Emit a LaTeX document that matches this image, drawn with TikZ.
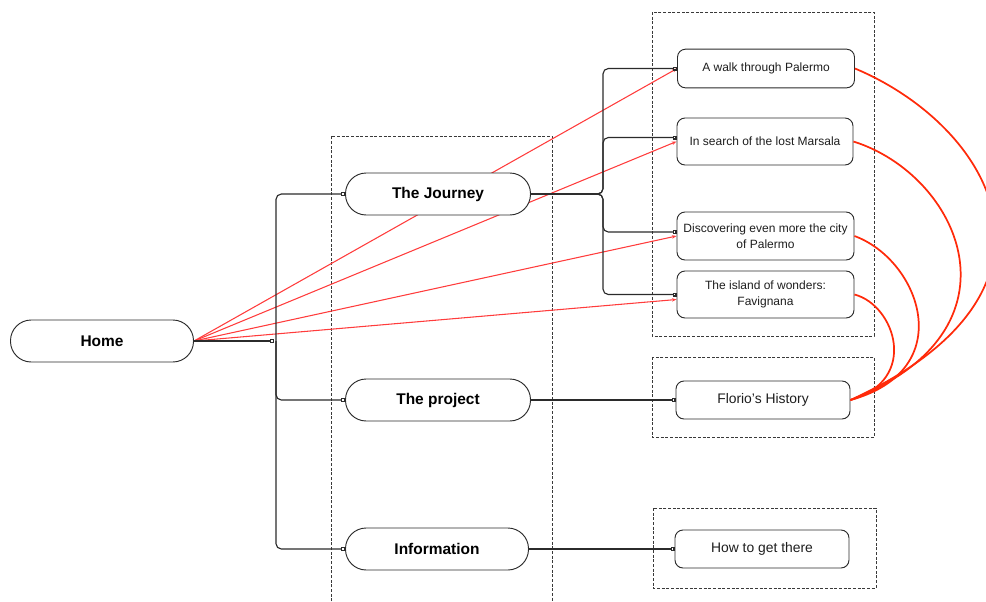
\documentclass[tikz,border=0pt]{standalone}
\usepackage{fontspec}
\setmainfont{Liberation Sans}
\usepackage{xcolor}
\usetikzlibrary{arrows.meta,positioning,backgrounds}
\definecolor{mapLine}{HTML}{2B2B2B}
\definecolor{mapText}{HTML}{1E1E1E}
\definecolor{mapDash}{HTML}{3A3A3A}
\definecolor{mapLink}{HTML}{FF3C3C}
\definecolor{mapFlow}{HTML}{FF2A0A}
\tikzset{
  sectionbox/.style={
    rectangle,
    rounded corners=15.5pt,
    draw=mapLine,
    fill=white,
    line width=0.7pt,
    align=center,
    font=\fontsize{11.6}{14}\selectfont\bfseries,
    minimum height=31.5pt,
    minimum width=138.75pt
  },
  pagebox/.style={
    rectangle,
    rounded corners=6pt,
    draw=mapLine,
    fill=white,
    line width=0.7pt,
    align=center,
    inner sep=1pt,
    text=mapText,
    font=\fontsize{9}{12}\selectfont,
    minimum height=29pt,
    minimum width=132.75pt
  },
  bigpage/.style={pagebox, font=\fontsize{10.4}{12}\selectfont, minimum height=28.5pt, minimum width=130.5pt},
  groupbox/.style={draw=mapDash, line width=0.6pt, dash pattern=on 2.2pt off 1.3pt},
  treeline/.style={draw=mapLine, line width=0.85pt, rounded corners=4pt},
  sqline/.style={treeline, -{Square[open,length=3pt,width=3pt]}},
  redlink/.style={draw=mapLink, line width=0.8pt, -{Stealth[length=3.5pt,width=2.6pt]}},
  redflow/.style={draw=mapFlow, line width=1.3pt}
}

\begin{document}
\begin{tikzpicture}[x=0.75pt, y=-0.75pt]
  \useasboundingbox (0,0) rectangle (986,601);
  % sections
  \node[sectionbox, minimum width=137.25pt] (home) at (102,341) {Home};
  \node[sectionbox] (journey) at (438,194) {The Journey};
  \node[sectionbox] (project) at (438,400) {The project};
  \node[sectionbox, minimum width=137.25pt] (info) at (437,549) {Information};
  % pages
  \node[pagebox] (walk) at (766,68.5) {A walk through Palermo};
  \node[pagebox, minimum height=35.25pt, minimum width=132pt] (marsala) at (765,141.5) {In search of the lost Marsala};
  \node[pagebox, minimum height=36pt] (disc) at (765.5,236) {Discovering even more the city\\of Palermo};
  \node[pagebox, minimum height=35.25pt] (island) at (765.5,294.5) {The island of wonders:\\Favignana};
  \node[bigpage] (florio) at (763,400) {Florio’s History};
  \node[bigpage] (howto) at (762,549) {How to get there};
  \coordinate (hj) at (274,341);
  \coordinate (hbus) at (276,341);
  \coordinate (jbus) at (603,194);
  % tree
  \draw[sqline] (home.east) -- (hj);
  \draw[sqline] (hbus) |- (journey.west);
  \draw[sqline] (hbus) |- (project.west);
  \draw[sqline] (hbus) |- (info.west);
  \draw[sqline] (journey.east) -- (jbus) |- (walk.west);
  \draw[sqline] (journey.east) -- (jbus) |- ([yshift=3pt]marsala.west);
  \draw[sqline] (journey.east) -- (jbus) |- ([yshift=3pt]disc.west);
  \draw[sqline] (journey.east) -- (jbus) |- (island.west);
  \draw[sqline] (project.east) -- (florio.west);
  \draw[sqline] (info.east) -- (howto.west);
  \begin{scope}[on background layer]
    % groups
    \draw[groupbox] (331,620) |- (552,136) -- (552,620);
    \draw[groupbox] (652,12) rectangle (874,336);
    \draw[groupbox] (652,357) rectangle (874,437);
    \draw[groupbox] (653,508) rectangle (876,588);
    % links from home
    \draw[redlink] (home.east) -- (walk.west);
    \draw[redlink] (home.east) -- (marsala.west);
    \draw[redlink] (home.east) -- (disc.west);
    \draw[redlink] (home.east) -- ([yshift=-3.75pt]island.west);
  \end{scope}
  % links to history
  \draw[redflow] (walk.east) .. controls (990,125) and (1090,290) .. (florio.east);
  \draw[redflow] (marsala.east) .. controls (960,175) and (1030,330) .. (florio.east);
  \draw[redflow] (disc.east) .. controls (920,260) and (960,370) .. (florio.east);
  \draw[redflow] (island.east) .. controls (895,305) and (920,380) .. (florio.east);
\end{tikzpicture}
\end{document}
